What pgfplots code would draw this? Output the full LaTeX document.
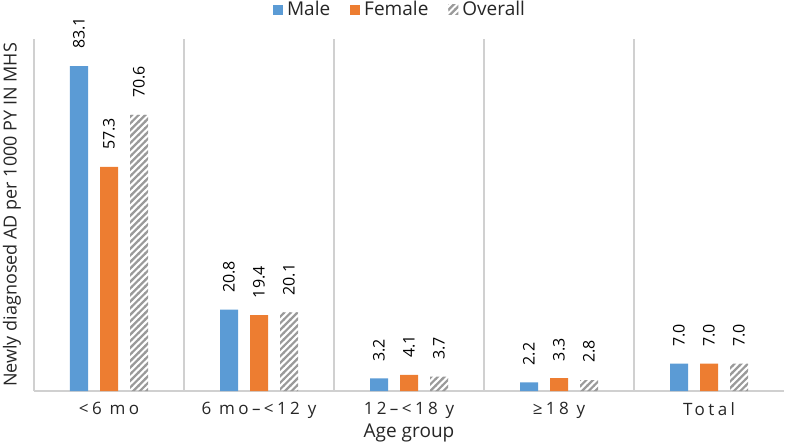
\documentclass[border=0pt]{standalone}
\usepackage{pgfplots}
\pgfplotsset{compat=1.18}
\usepackage{fontspec}
\setmainfont{Open Sans}
\newfontfamily\tickfont[LetterSpace=20]{Open Sans}
\usetikzlibrary{patterns}
\pgfdeclarepatternformonly{thickne}{\pgfqpoint{-1pt}{-1pt}}{\pgfqpoint{4.3pt}{4.3pt}}{\pgfqpoint{3.3pt}{3.3pt}}{%
  \pgfsetlinewidth{1.1pt}%
  \pgfpathmoveto{\pgfqpoint{-0.2pt}{-0.2pt}}%
  \pgfpathlineto{\pgfqpoint{3.5pt}{3.5pt}}%
  \pgfusepath{stroke}}
\definecolor{cmale}{HTML}{5B9BD5}
\definecolor{cfemale}{HTML}{ED7D31}
\definecolor{chatch}{HTML}{9A9A9A}
\definecolor{cgrid}{HTML}{D0D0D0}
\definecolor{ctext}{HTML}{262626}
\begin{document}
\begin{tikzpicture}
\begin{axis}[
  at={(0,0)}, anchor=south west,
  scale only axis,
  width=375pt, height=176pt,
  ybar=6pt, bar width=9pt,
  xmin=-0.5, xmax=4.5, ymin=0, ymax=90,
  xtick={0,1,2,3,4},
  xticklabels={{<6 mo},{6 mo\textendash<12 y},{12\textendash<18 y},{≥18 y},{Total}},
  xticklabel style={font=\tickfont\fontsize{8.5}{9}\selectfont, text=ctext, yshift=2pt},
  major x tick style={draw=none},
  minor xtick={0.5,1.5,2.5,3.5},
  minor x tick style={draw=none},
  xminorgrids=true,
  minor grid style={cgrid, line width=0.6pt},
  ytick=\empty,
  axis lines*=left,
  axis line style={cgrid, line width=0.6pt},
  xlabel={Age group},
  ylabel={Newly diagnosed AD per 1000 PY IN MHS},
  xlabel style={font=\fontsize{9.5}{10}\selectfont, text=ctext, yshift=4.5pt},
  ylabel style={font=\fontsize{9}{10}\selectfont, text=ctext, yshift=3pt},
  /pgf/number format/assume math mode=true,
  nodes near coords,
  nodes near coords style={rotate=90, anchor=west, xshift=5pt, font=\fontsize{8}{9}\selectfont, text=black,
    /pgf/number format/.cd, fixed, fixed zerofill, precision=1, assume math mode=true},
  legend style={draw=none, at={(0.5,1)}, anchor=south, yshift=6pt, xshift=-4pt,
    legend columns=3, font=\fontsize{9.5}{10}\selectfont, text=ctext,
    /tikz/every even column/.append style={column sep=8pt}},
  legend image code/.code={\draw[#1, draw=none] (0cm,-2.5pt) rectangle (5pt,2.5pt);},
]
\addplot[fill=cmale, draw=none] coordinates {(0,83.1) (1,20.8) (2,3.2) (3,2.2) (4,7.0)};
\addplot[fill=cfemale, draw=none] coordinates {(0,57.3) (1,19.4) (2,4.1) (3,3.3) (4,7.0)};
\addplot[pattern=thickne, pattern color=chatch, draw=none] coordinates {(0,70.6) (1,20.1) (2,3.7) (3,2.8) (4,7.0)};
\legend{Male, Female, Overall}
\end{axis}
\pgfresetboundingbox
\path[use as bounding box] (-17pt,-27pt) rectangle (376pt,195.5pt);
\end{tikzpicture}
\end{document}
